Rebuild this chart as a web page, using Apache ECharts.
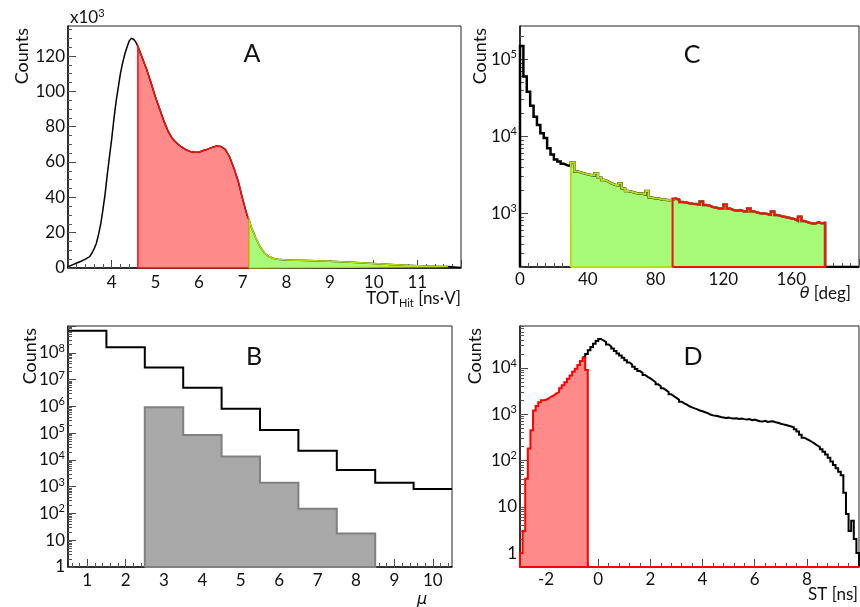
<!DOCTYPE html>
<html><head><meta charset="utf-8">
<script src="https://cdn.jsdelivr.net/npm/echarts@6/dist/echarts.min.js"></script>
<style>html,body{margin:0;padding:0;background:#fff}#c{width:860px;height:607px}</style>
</head><body><div id="c"></div>
<script>
// ===== DATA =====
// Panel A: TOT_Hit [ns·V] vs counts (x10^3)
const aX = [3.0,3.1,3.2,3.3,3.4,3.5,3.55,3.6,3.65,3.7,3.75,3.8,3.85,3.9,3.95,4.0,4.05,4.1,4.15,4.2,4.25,4.3,4.35,4.4,4.45,4.5,4.55,4.6,
  4.7,4.8,4.9,5.0,5.1,5.2,5.3,5.4,5.5,5.6,5.7,5.8,5.9,6.0,6.1,6.2,6.3,6.4,6.5,6.6,6.7,6.8,6.9,7.0,7.1,7.15,
  7.2,7.3,7.4,7.5,7.6,7.7,7.8,8.0,8.5,9.0,9.5,10.0,10.5,11.0,11.5,11.7,12.0];
const aY = [0.8,1.8,2.8,3.8,5.0,6.5,8.5,11,14,19,25,33,42,53,63,73,84,94,102,110,116,121,125,128.5,130,129.5,128,125.5,
  119,112.5,105,97,90,83,77,73,70.5,68.5,67,66,65.5,65.5,66.5,67.3,68.3,69,68.8,67.2,63,56.5,49,39,30,27,
  23,17,12,8.5,6.5,5.5,5.0,4.5,4.2,3.8,3.2,2.5,1.8,1.3,0.9,0.8,0.3];
const aRedLo = 4.6, aCut = 7.15, aGreenHi = 11.7;

// Panel C: theta [deg], 2-deg bins from 0 to 200
const cBinLo = 0, cBinW = 2;
const cCounts = [150000,60000,38000,25000,18000,14000,11000,9500,7000,5800,5000,4700,4400,4200,4100,
  4600,3500,3400,3300,3200,3150,3100,3300,2900,2700,2600,2450,2350,2300,2450,2100,1950,1900,1850,1800,1800,1750,1950,1600,1550,1550,1500,1500,1480,1500,
  1550,1500,1400,1380,1350,1330,1320,1300,1420,1280,1250,1200,1180,1150,1160,1300,1150,1100,1080,1100,1060,1050,1150,1060,1020,1000,990,980,960,1050,
  950,920,900,880,860,840,800,900,790,760,740,730,760,740,750,
  0,0,0,0,0,0,0,0,0,0];
const cGreenLo = 30, cRedLo = 90, cSelHi = 180;

// Panel B: multiplicity mu, unit bins
const bMuLo = 0.5, bMuW = 1;
const bAll = [6.6e8,1.6e8,2.8e7,4.9e6,8.1e5,1.3e5,2.2e4,4.2e3,1.4e3,810];
const bSelLo = 2.5;
const bSel = [9.3e5,8.5e4,1.35e4,1.4e3,150,18];

// Panel D: ST [ns], 0.1-ns bins
const dW = 0.1;
const dRedLo = -3.0;
const dRed = [1,3,40,180,450,1200,1500,1800,2000,2050,2200,2400,2550,2800,3000,3600,4200,4900,5800,6800,8200,9500,11500,14000,16500,9000];
const dAllLo = -0.6;
const dAll = [17000,20000,24000,28000,33000,38000,42000,39000,36000,32000,
  29000,26000,23000,20500,18500,16500,14500,13000,11800,10500,
  9400,8500,7800,7000,6400,5900,5400,4900,4400,4000,
  3600,3300,3000,2700,2450,2250,2050,1850,1700,1600,
  1480,1400,1330,1270,1200,1150,1100,1050,980,940,
  920,900,870,850,830,840,810,800,810,790,
  800,780,770,780,740,760,730,700,690,720,
  680,690,700,670,650,620,600,580,560,540,
  520,470,420,360,310,290,270,250,230,210,
  195,175,155,135,115,95,80,68,57,48,
  20,7,3,5,2,1];
const dHi = 10;

// ===== helpers =====
const FONT = 'Lato';
const INK = '#111';
function rng(a, b, s) { const o = []; for (let i = 0; a + i * s <= b + 1e-9; i++) o.push(+(a + i * s).toFixed(6)); return o; }
function logMinors(lo, hi) { const o = []; for (let e = -2; e <= 10; e++) for (let m = 1; m <= 9; m++) { const v = +(m * Math.pow(10, e)).toPrecision(6); if (v >= lo - 1e-12 && v <= hi) o.push(v); } return o; }
function histPts(lo, w, vals, base, opt) {
  opt = opt || {};
  const p = [];
  if (opt.startBase) p.push([lo, base]);
  vals.forEach((v, i) => { const y = Math.max(v, base); p.push([+(lo + i * w).toFixed(6), y]); p.push([+(lo + (i + 1) * w).toFixed(6), y]); });
  const hi = +(lo + vals.length * w).toFixed(6);
  if (opt.endBase) p.push([hi, base]);
  if (opt.extendTo != null) p.push([opt.extendTo, base]);
  if (opt.closeBack) p.push([lo, base]);
  return p;
}
const rich = {
  b: { fontFamily: FONT, fontSize: 17, color: INK, lineHeight: 20, verticalAlign: 'middle' },
  s: { fontFamily: FONT, fontSize: 11, color: INK, lineHeight: 11, verticalAlign: 'top' }
};
function plainFmt(v) { return '{b|' + v + '}'; }
function powFmt(v) {
  const l = Math.log10(v), e = Math.round(l);
  if (Math.abs(l - e) > 1e-6) return '';
  if (e === 0) return '{b|1}';
  if (e === 1) return '{b|10}';
  return '{b|10}{s|' + e + '}';
}
function axisPair(dim, gi, type, min, max, majors, labels, minors, fmt, margin) {
  const pos = dim === 'x' ? 'bottom' : 'left';
  const major = {
    type, gridIndex: gi, min, max, position: pos,
    axisLine: { show: true, onZero: false, lineStyle: { color: INK, width: 1.5 } },
    axisTick: { show: true, inside: true, length: 8, customValues: majors, lineStyle: { color: '#444', width: 1 } },
    axisLabel: { show: true, customValues: labels, formatter: fmt, margin, rich, showMinLabel: true, showMaxLabel: true, hideOverlap: false },
    splitLine: { show: false }, minorTick: { show: false }
  };
  const minor = {
    type, gridIndex: gi, min, max, position: pos,
    axisLine: { show: false, onZero: false },
    axisTick: { show: true, inside: true, length: 4, customValues: minors, lineStyle: { color: '#555', width: 1 } },
    axisLabel: { show: false }, splitLine: { show: false }
  };
  return [major, minor];
}
function line(ai, pts, color, width, fill) {
  const s = { type: 'line', xAxisIndex: ai, yAxisIndex: ai, data: pts, symbol: 'none', showSymbol: false,
    lineStyle: { color, width, join: 'miter' }, silent: true, animation: false, clip: true };
  if (fill) s.areaStyle = { color: fill, opacity: 1, origin: 'start' };
  return s;
}

// ===== panel geometry =====
const grids = [
  { left: 68, top: 26, width: 393, height: 242 },   // A
  { left: 520, top: 26, width: 339, height: 241 },  // C
  { left: 68, top: 326, width: 384, height: 241 },  // B
  { left: 520, top: 326, width: 339, height: 241 }  // D
].map(g => Object.assign({ show: true, borderColor: '#222', borderWidth: 1, backgroundColor: 'transparent', containLabel: false }, g));

const xAxes = [], yAxes = [];
// A
xAxes.push(...axisPair('x', 0, 'value', 3, 12, rng(3, 12, 1), rng(4, 11, 1), rng(3, 12, 0.2), plainFmt, 5));
yAxes.push(...axisPair('y', 0, 'value', 0, 137, rng(0, 120, 20), rng(0, 120, 20), rng(0, 135, 5), plainFmt, 3));
// C
const cMin = 200, cMax = 272000;
xAxes.push(...axisPair('x', 1, 'value', 0, 200, rng(0, 200, 40), rng(0, 160, 40), rng(0, 200, 5), plainFmt, 3));
yAxes.push(...axisPair('y', 1, 'log', cMin, cMax, [1e3, 1e4, 1e5], [1e3, 1e4, 1e5], logMinors(cMin, cMax), powFmt, 3));
// B
const bMin = 1, bMax = 1e9;
xAxes.push(...axisPair('x', 2, 'value', 0.5, 10.5, rng(1, 10, 1), rng(1, 10, 1), rng(0.6, 10.4, 0.2), plainFmt, 4));
yAxes.push(...axisPair('y', 2, 'log', bMin, bMax, rng(0, 9, 1).map(e => Math.pow(10, e)), rng(0, 8, 1).map(e => Math.pow(10, e)), logMinors(bMin, bMax), powFmt, 3));
// D
const dMin = 0.5, dMax = 80000;
xAxes.push(...axisPair('x', 3, 'value', -3, 10, rng(-2, 8, 2), rng(-2, 8, 2), rng(-2.8, 9.6, 0.4), plainFmt, 3));
yAxes.push(...axisPair('y', 3, 'log', dMin, dMax, [1, 10, 100, 1e3, 1e4], [1, 10, 100, 1e3, 1e4], logMinors(dMin, dMax), powFmt, 3));

// ===== series =====
const aPts = aX.map((x, i) => [x, aY[i]]);
function aSlice(lo, hi) {
  const p = aPts.filter(q => q[0] >= lo - 1e-9 && q[0] <= hi + 1e-9);
  return [[lo, 0]].concat(p, [[hi, 0], [lo, 0]]);
}
const RED = '#f01010', REDFILL = '#ff8a8a', GREENFILL = '#a8fb78', GREENLINE = '#b8dc1a';
const cIdx = v => Math.round((v - cBinLo) / cBinW);

const series = [
  // A (axis 0)
  line(0, aPts, '#000', 1.5),
  line(0, aSlice(aRedLo, aCut), RED, 1.5, REDFILL),
  line(0, aSlice(aCut, aGreenHi), GREENLINE, 1.5, GREENFILL),
  // C (axis 2)
  line(2, histPts(cBinLo, cBinW, cCounts, cMin, { startBase: true }), '#000', 2.5),
  line(2, histPts(cGreenLo, cBinW, cCounts.slice(cIdx(cGreenLo), cIdx(cSelHi)), cMin, { startBase: true, endBase: true, closeBack: true }), GREENLINE, 2, GREENFILL),
  line(2, histPts(cRedLo, cBinW, cCounts.slice(cIdx(cRedLo), cIdx(cSelHi)), cMin, { startBase: true, endBase: true, closeBack: true }), RED, 2),
  // B (axis 4)
  line(4, histPts(bSelLo, bMuW, bSel, bMin, { startBase: true, endBase: true, closeBack: true }), '#808080', 2, '#a8a8a8'),
  line(4, histPts(bMuLo, bMuW, bAll, bMin, {}), '#000', 2),
  // D (axis 6)
  line(6, histPts(dAllLo, dW, dAll, dMin, { endBase: true }), '#000', 2),
  line(6, histPts(dRedLo, dW, dRed, dMin, { startBase: true, endBase: true, extendTo: dHi, closeBack: true }), '#ff0000', 2, REDFILL)
];

// ===== texts =====
function txt(x, y, text, o) {
  o = o || {};
  return { type: 'text', x, y, rotation: o.rot || 0, z: 100, silent: true,
    style: Object.assign({ text, fontFamily: FONT, fontSize: o.size || 18, fill: INK, align: o.align || 'center', verticalAlign: 'middle' }, o.style || {}) };
}
const tRich = {
  n: { fontFamily: FONT, fontSize: 17, color: INK, lineHeight: 20, verticalAlign: 'middle' },
  sub: { fontFamily: FONT, fontSize: 11, color: INK, lineHeight: 12, verticalAlign: 'bottom' },
  sup: { fontFamily: FONT, fontSize: 11, color: INK, lineHeight: 11, verticalAlign: 'top' },
  it: { fontFamily: 'DejaVu Sans', fontStyle: 'italic', fontSize: 16, color: INK, lineHeight: 20, verticalAlign: 'middle' }
};
const graphics = [
  txt(252, 54, 'A', { size: 25 }),
  txt(692, 55, 'C', { size: 25 }),
  txt(254, 357, 'B', { size: 25 }),
  txt(693, 357, 'D', { size: 25 }),
  txt(22, 28, 'Counts', { rot: Math.PI / 2, align: 'right' }),
  txt(480, 28, 'Counts', { rot: Math.PI / 2, align: 'right' }),
  txt(30, 328, 'Counts', { rot: Math.PI / 2, align: 'right' }),
  txt(475, 328, 'Counts', { rot: Math.PI / 2, align: 'right' }),
  txt(70, 18, '{n|x10}{sup|3}', { align: 'left', style: { rich: tRich } }),
  txt(461, 299, '{n|TOT}{sub|Hit}{n| [ns·V]}', { align: 'right', style: { rich: tRich } }),
  txt(851, 294, '{it|θ}{n| [deg]}', { align: 'right', style: { rich: tRich } }),
  txt(422, 600, '{it|μ}', { align: 'center', style: { rich: tRich } }),
  txt(858, 595, '{n|ST [ns]}', { align: 'right', style: { rich: tRich } })
];

const chart = echarts.init(document.getElementById('c'), null, { renderer: 'canvas' });
chart.setOption({
  animation: false,
  backgroundColor: '#fff',
  textStyle: { fontFamily: FONT, color: INK },
  grid: grids,
  xAxis: xAxes,
  yAxis: yAxes,
  series: series,
  graphic: graphics
});
</script>
</body></html>
